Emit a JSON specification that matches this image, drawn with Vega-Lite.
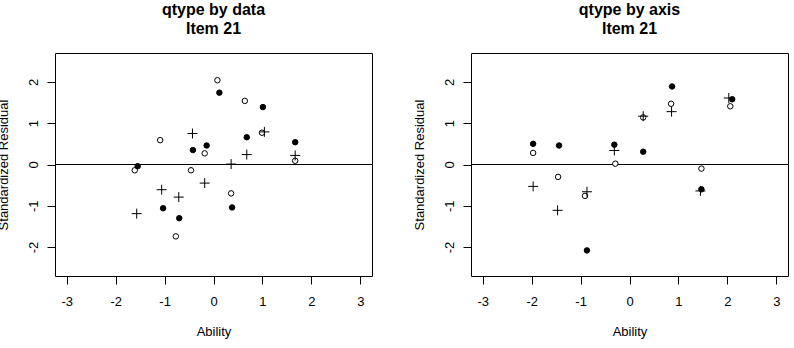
{
  "$schema": "https://vega.github.io/schema/vega-lite/v6.json",
  "background": "white",
  "padding": {"left": -4, "top": 1, "right": 0, "bottom": 0},
  "spacing": 39,
  "config": {
    "font": "Liberation Sans",
    "view": {"stroke": "black", "strokeWidth": 1},
    "axis": {
      "grid": false, "domain": false, "tickColor": "black", "tickSize": 8, "tickWidth": 1,
      "labelFont": "Liberation Sans", "labelFontSize": 13, "labelColor": "black",
      "titleFont": "Liberation Sans", "titleFontSize": 13, "titleFontWeight": "normal", "titleColor": "black"
    },
    "title": {"font": "Liberation Sans", "fontSize": 16, "fontWeight": "bold", "color": "black", "lineHeight": 19, "offset": 16, "anchor": "middle"}
  },
  "datasets": {
    "left": [
      {"ability": 0.08, "resid": 2.04, "type": "open"},
      {"ability": 0.64, "resid": 1.54, "type": "open"},
      {"ability": -1.09, "resid": 0.59, "type": "open"},
      {"ability": -0.18, "resid": 0.27, "type": "open"},
      {"ability": 0.99, "resid": 0.77, "type": "open"},
      {"ability": 1.67, "resid": 0.09, "type": "open"},
      {"ability": -1.61, "resid": -0.14, "type": "open"},
      {"ability": -0.46, "resid": -0.14, "type": "open"},
      {"ability": 0.36, "resid": -0.7, "type": "open"},
      {"ability": -0.77, "resid": -1.74, "type": "open"},
      {"ability": 0.12, "resid": 1.74, "type": "filled"},
      {"ability": 1.01, "resid": 1.39, "type": "filled"},
      {"ability": 0.68, "resid": 0.66, "type": "filled"},
      {"ability": 1.67, "resid": 0.54, "type": "filled"},
      {"ability": -0.42, "resid": 0.35, "type": "filled"},
      {"ability": -0.14, "resid": 0.46, "type": "filled"},
      {"ability": -1.55, "resid": -0.04, "type": "filled"},
      {"ability": -1.03, "resid": -1.06, "type": "filled"},
      {"ability": -0.7, "resid": -1.3, "type": "filled"},
      {"ability": 0.38, "resid": -1.04, "type": "filled"},
      {"ability": -0.43, "resid": 0.75, "type": "plus"},
      {"ability": 1.04, "resid": 0.79, "type": "plus"},
      {"ability": 0.68, "resid": 0.24, "type": "plus"},
      {"ability": 1.67, "resid": 0.22, "type": "plus"},
      {"ability": 0.36, "resid": 0.01, "type": "plus"},
      {"ability": -0.18, "resid": -0.45, "type": "plus"},
      {"ability": -1.06, "resid": -0.61, "type": "plus"},
      {"ability": -0.71, "resid": -0.79, "type": "plus"},
      {"ability": -1.57, "resid": -1.19, "type": "plus"}
    ],
    "right": [
      {"ability": -1.97, "resid": 0.5, "type": "filled"},
      {"ability": -1.44, "resid": 0.46, "type": "filled"},
      {"ability": -0.31, "resid": 0.48, "type": "filled"},
      {"ability": 0.28, "resid": 0.31, "type": "filled"},
      {"ability": 0.87, "resid": 1.89, "type": "filled"},
      {"ability": 2.1, "resid": 1.58, "type": "filled"},
      {"ability": 1.47, "resid": -0.6, "type": "filled"},
      {"ability": -0.87, "resid": -2.08, "type": "filled"},
      {"ability": -1.97, "resid": 0.28, "type": "open"},
      {"ability": -1.46, "resid": -0.3, "type": "open"},
      {"ability": -0.91, "resid": -0.76, "type": "open"},
      {"ability": -0.29, "resid": 0.02, "type": "open"},
      {"ability": 0.28, "resid": 1.14, "type": "open"},
      {"ability": 0.85, "resid": 1.47, "type": "open"},
      {"ability": 2.06, "resid": 1.41, "type": "open"},
      {"ability": 1.47, "resid": -0.1, "type": "open"},
      {"ability": -1.97, "resid": -0.53, "type": "plus"},
      {"ability": -1.47, "resid": -1.11, "type": "plus"},
      {"ability": -0.87, "resid": -0.66, "type": "plus"},
      {"ability": -0.31, "resid": 0.34, "type": "plus"},
      {"ability": 0.28, "resid": 1.17, "type": "plus"},
      {"ability": 0.86, "resid": 1.28, "type": "plus"},
      {"ability": 2.03, "resid": 1.61, "type": "plus"},
      {"ability": 1.45, "resid": -0.64, "type": "plus"}
    ]
  },
  "hconcat": [
    {
      "title": {"text": ["qtype by data", "Item 21"]},
      "width": 317, "height": 223,
      "layer": [
        {
          "data": {"values": [{"z": 0}]},
          "mark": {"type": "rule", "color": "black", "strokeWidth": 1},
          "encoding": {"y": {"field": "z", "type": "quantitative", "scale": {"domain": [-2.7, 2.7], "nice": false, "zero": false}}}
        },
        {
          "data": {"name": "left"},
          "mark": {"type": "point", "filled": true, "stroke": "black", "strokeWidth": 1, "opacity": 1},
          "encoding": {
            "x": {"field": "ability", "type": "quantitative", "scale": {"domain": [-3.24, 3.24], "nice": false, "zero": false},
                  "axis": {"values": [-3, -2, -1, 0, 1, 2, 3], "labelExpr": "replace(datum.label, '\u2212', '-')", "title": "Ability", "labelBaseline": "alphabetic", "labelPadding": 21, "titleBaseline": "alphabetic", "titleY": 59}},
            "y": {"field": "resid", "type": "quantitative", "scale": {"domain": [-2.7, 2.7], "nice": false, "zero": false},
                  "axis": {"values": [-2, -1, 0, 1, 2], "labelExpr": "replace(datum.label, '\u2212', '-')", "title": "Standardized Residual", "labelAngle": -90, "labelAlign": "center", "labelBaseline": "alphabetic", "labelPadding": 10, "titleAngle": -90, "titleAlign": "center", "titleBaseline": "alphabetic", "titleX": -48, "titleY": 111.5}},
            "shape": {"field": "type", "type": "nominal", "scale": {"domain": ["filled", "open", "plus"], "range": ["circle", "circle", "M-1,0H1M0,-1V1"]}, "legend": null},
            "fill": {"field": "type", "type": "nominal", "scale": {"domain": ["filled", "open", "plus"], "range": ["black", "white", "transparent"]}, "legend": null},
            "size": {"field": "type", "type": "nominal", "scale": {"type": "ordinal", "domain": ["filled", "open", "plus"], "range": [30, 30, 100]}, "legend": null}
          }
        }
      ]
    },
    {
      "title": {"text": ["qtype by axis", "Item 21"]},
      "width": 317, "height": 223,
      "layer": [
        {
          "data": {"values": [{"z": 0}]},
          "mark": {"type": "rule", "color": "black", "strokeWidth": 1},
          "encoding": {"y": {"field": "z", "type": "quantitative", "scale": {"domain": [-2.7, 2.7], "nice": false, "zero": false}}}
        },
        {
          "data": {"name": "right"},
          "mark": {"type": "point", "filled": true, "stroke": "black", "strokeWidth": 1, "opacity": 1},
          "encoding": {
            "x": {"field": "ability", "type": "quantitative", "scale": {"domain": [-3.24, 3.24], "nice": false, "zero": false},
                  "axis": {"values": [-3, -2, -1, 0, 1, 2, 3], "labelExpr": "replace(datum.label, '\u2212', '-')", "title": "Ability", "labelBaseline": "alphabetic", "labelPadding": 21, "titleBaseline": "alphabetic", "titleY": 59}},
            "y": {"field": "resid", "type": "quantitative", "scale": {"domain": [-2.7, 2.7], "nice": false, "zero": false},
                  "axis": {"values": [-2, -1, 0, 1, 2], "labelExpr": "replace(datum.label, '\u2212', '-')", "title": "Standardized Residual", "labelAngle": -90, "labelAlign": "center", "labelBaseline": "alphabetic", "labelPadding": 10, "titleAngle": -90, "titleAlign": "center", "titleBaseline": "alphabetic", "titleX": -48, "titleY": 111.5}},
            "shape": {"field": "type", "type": "nominal", "scale": {"domain": ["filled", "open", "plus"], "range": ["circle", "circle", "M-1,0H1M0,-1V1"]}, "legend": null},
            "fill": {"field": "type", "type": "nominal", "scale": {"domain": ["filled", "open", "plus"], "range": ["black", "white", "transparent"]}, "legend": null},
            "size": {"field": "type", "type": "nominal", "scale": {"type": "ordinal", "domain": ["filled", "open", "plus"], "range": [30, 30, 100]}, "legend": null}
          }
        }
      ]
    }
  ]
}
